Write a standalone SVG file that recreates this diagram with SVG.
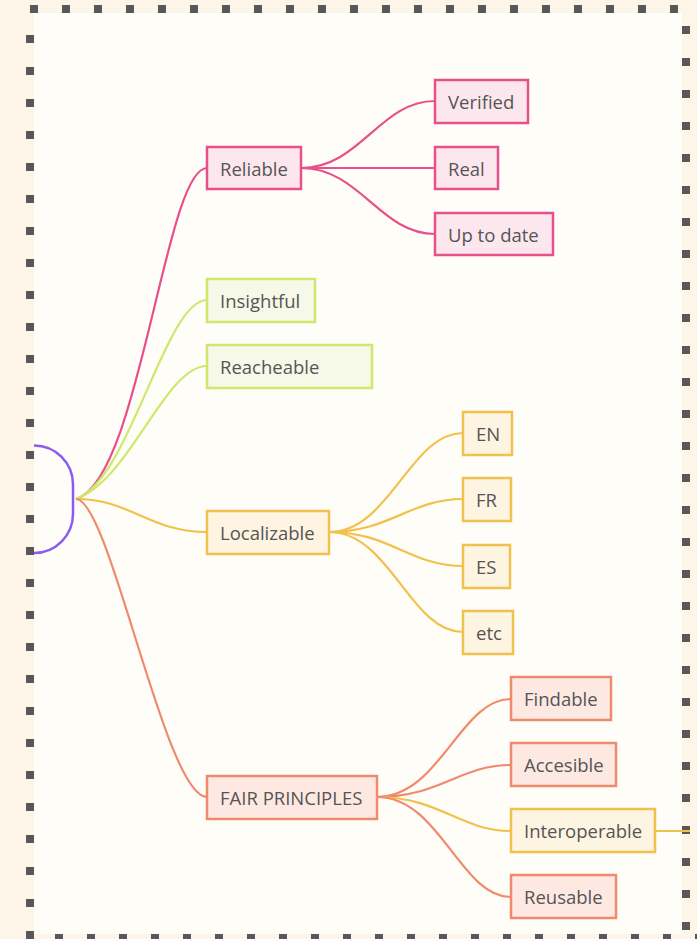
<svg xmlns="http://www.w3.org/2000/svg" width="697" height="939" viewBox="0 0 697 939">
<style>
  .t { font-family: "Open Sans", "Noto Sans", "DejaVu Sans", sans-serif; font-size: 18.5px; fill: #555555; }
  .n rect { stroke-width: 2.5; }
  .pink rect { fill: #fde7ef; stroke: #e8508b; }
  .green rect { fill: #f6f9e8; stroke: #cfe86c; }
  .yel rect { fill: #fdf4e2; stroke: #f2c14d; }
  .sal rect { fill: #fde9e2; stroke: #f08a6c; }
  .e path { fill: none; stroke-width: 2.2; }
  .ep { stroke: #e8508b; }
  .eg { stroke: #cfe86c; }
  .ey { stroke: #f2c14d; }
  .es { stroke: #f08a6c; }
  .dots { stroke: #585858; stroke-width: 8; stroke-dasharray: 8 24; fill: none; }
</style>
<rect x="0" y="0" width="697" height="939" fill="#fdf5e7"/>
<rect x="34" y="13" width="648" height="921" fill="#fffdf8"/>
<g id="border">
  <line class="dots" x1="30" y1="9" x2="690" y2="9"/>
  <line class="dots" x1="30" y1="35" x2="30" y2="939"/>
  <line class="dots" x1="686" y1="26" x2="686" y2="939"/>
  <line class="dots" x1="55" y1="938" x2="697" y2="938"/>
</g>
<g id="connectors" class="e">
  <path class="ep" d="M76 499 C140 480 165 168 207 168"/>
  <path class="eg" d="M76 499 C130 480 165 300 207 300"/>
  <path class="eg" d="M76 499 C130 480 165 366 207 366"/>
  <path class="ey" d="M76 499 C130 499 150 532 207 532"/>
  <path class="es" d="M76 499 C110 499 165 797 207 797"/>
  <path class="ep" d="M301 168 C360 168 380 101 435 101"/>
  <path class="ep" d="M301 168 L435 168"/>
  <path class="ep" d="M301 168 C360 168 380 234 435 234"/>
  <path class="ey" d="M329 532 C390 532 410 433 463 433"/>
  <path class="ey" d="M329 532 C390 532 410 499 463 499"/>
  <path class="ey" d="M329 532 C390 532 410 566 463 566"/>
  <path class="ey" d="M329 532 C390 532 410 632 463 632"/>
  <path class="es" d="M377 797 C440 797 460 699 511 699"/>
  <path class="es" d="M377 797 C440 797 460 765 511 765"/>
  <path class="ey" d="M377 797 C440 797 460 831 511 831"/>
  <path class="es" d="M377 797 C440 797 460 897 511 897"/>
  <path class="ey" d="M655 831 L690 831"/>
</g>
<g id="root">
  <path d="M34 445.5 A39 39 0 0 1 73 484.5 V514 A39 39 0 0 1 34 553" fill="none" stroke="#8b5cf0" stroke-width="2.5"/>
</g>
<g id="reliable" class="n pink"><rect x="207" y="147" width="94" height="42"/><text class="t" x="220" y="175.5">Reliable</text></g>
<g id="verified" class="n pink"><rect x="435" y="80" width="93" height="43"/><text class="t" x="448" y="109">Verified</text></g>
<g id="real" class="n pink"><rect x="435" y="147" width="63" height="42"/><text class="t" x="448" y="175.5">Real</text></g>
<g id="uptodate" class="n pink"><rect x="435" y="213" width="118" height="42"/><text class="t" x="448" y="241.5">Up to date</text></g>
<g id="insightful" class="n green"><rect x="207" y="279" width="108" height="43"/><text class="t" x="220" y="308">Insightful</text></g>
<g id="reacheable" class="n green"><rect x="207" y="345" width="165" height="43"/><text class="t" x="220" y="374">Reacheable</text></g>
<g id="localizable" class="n yel"><rect x="207" y="511" width="122" height="43"/><text class="t" x="220" y="540">Localizable</text></g>
<g id="en" class="n yel"><rect x="463" y="412" width="49" height="43"/><text class="t" x="476" y="441">EN</text></g>
<g id="fr" class="n yel"><rect x="463" y="478" width="48" height="43"/><text class="t" x="476" y="507">FR</text></g>
<g id="es" class="n yel"><rect x="463" y="545" width="47" height="43"/><text class="t" x="476" y="574">ES</text></g>
<g id="etc" class="n yel"><rect x="463" y="611" width="50" height="43"/><text class="t" x="476" y="640">etc</text></g>
<g id="fair" class="n sal"><rect x="207" y="776" width="170" height="43"/><text class="t" x="220" y="805">FAIR PRINCIPLES</text></g>
<g id="findable" class="n sal"><rect x="511" y="677" width="100" height="43"/><text class="t" x="524" y="706">Findable</text></g>
<g id="accesible" class="n sal"><rect x="511" y="743" width="105" height="43"/><text class="t" x="524" y="772">Accesible</text></g>
<g id="interoperable" class="n yel"><rect x="511" y="809" width="144" height="43"/><text class="t" x="524" y="838">Interoperable</text></g>
<g id="reusable" class="n sal"><rect x="511" y="875" width="105" height="43"/><text class="t" x="524" y="904">Reusable</text></g>
</svg>
